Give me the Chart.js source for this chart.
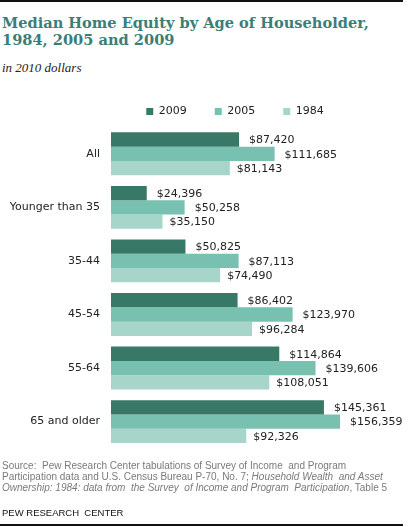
<!DOCTYPE html>
<html>
<head>
<meta charset="utf-8">
<script src="https://cdn.jsdelivr.net/npm/chart.js@4.4.1/dist/chart.umd.min.js"></script>
<style>
  html, body { margin: 0; padding: 0; background: #fff; }
  body { width: 408px; height: 527px; position: relative; overflow: hidden; }
  .rule { position: absolute; left: 0; width: 403px; background: #111; }
  #title { position: absolute; left: 2px; top: 14px; font: bold 14.6px "DejaVu Serif", Georgia, serif;
           color: #3b7d78; line-height: 17px; }
  #subtitle { position: absolute; left: 2px; top: 60px; font: italic 13px "Liberation Serif", Georgia, serif; color: #222; }
  #wrap { position: absolute; left: 0; top: 78px; width: 408px; height: 388px; }
  #source { position: absolute; left: 2px; top: 460px; font: 10px "Liberation Sans", Tahoma, sans-serif;
            color: #7a7a7a; line-height: 11px; white-space: nowrap; }
  #credit { position: absolute; left: 2px; top: 507px; font: 9.5px "Liberation Sans", Tahoma, sans-serif; color: #111; }
</style>
</head>
<body>
<div class="rule" style="top:0;height:2px"></div>
<div id="title">Median Home Equity by Age of Householder,<br>1984, 2005 and 2009</div>
<div id="subtitle">in 2010 dollars</div>
<div id="wrap"><canvas id="equityChart"></canvas></div>
<div id="source">Source:&nbsp; Pew Research Center tabulations of Survey of Income&nbsp; and Program<br>Participation data and U.S. Census Bureau P-70, No. 7; <i>Household Wealth&nbsp; and Asset</i><br><i>Ownership: 1984: data from&nbsp; the Survey&nbsp; of Income and Program&nbsp; Participation</i>, Table 5</div>
<div id="credit">PEW RESEARCH&nbsp; CENTER</div>
<div class="rule" style="top:524px;height:2px"></div>

<script>
const ageGroups = ['All', 'Younger than 35', '35-44', '45-54', '55-64', '65 and older'];
const years = ['2009', '2005', '1984'];
const equity2009 = [87420, 24396, 50825, 86402, 114864, 145361];
const equity2005 = [111685, 50258, 87113, 123970, 139606, 156359];
const equity1984 = [81143, 35150, 74490, 96284, 108051, 92326];
const barColors = ['#387867', '#78c0b0', '#a7d5c9'];

// value labels to the right of each bar
const valueLabels = {
  id: 'valueLabels',
  afterDatasetsDraw(chart) {
    const ctx = chart.ctx;
    ctx.save();
    ctx.font = '11px "DejaVu Sans", Tahoma, sans-serif';
    ctx.fillStyle = '#222';
    ctx.textBaseline = 'middle';
    ctx.textAlign = 'left';
    chart.data.datasets.forEach((ds, i) => {
      const gap = i === 2 ? 7 : 10;
      chart.getDatasetMeta(i).data.forEach((bar, j) => {
        ctx.fillText('$' + ds.data[j].toLocaleString('en-US'), bar.x + gap, bar.y + 1);
      });
    });
    ctx.restore();
  }
};

// nudge the legend row to sit over the bars, as in the original
const legendShift = {
  id: 'legendShift',
  afterLayout(chart) {
    chart.legend.left = 62;
    chart.legend.right = chart.width;
  }
};

const ctx = document.getElementById('equityChart').getContext('2d');
new Chart(ctx, {
  type: 'bar',
  data: {
    labels: ageGroups,
    datasets: [
      { label: years[0], data: equity2009, backgroundColor: barColors[0] },
      { label: years[1], data: equity2005, backgroundColor: barColors[1] },
      { label: years[2], data: equity1984, backgroundColor: barColors[2] }
    ]
  },
  options: {
    indexAxis: 'y',
    responsive: true,
    maintainAspectRatio: false,
    animation: false,
    layout: { padding: { left: 0, right: 4, top: 0, bottom: 2 } },
    datasets: { bar: { categoryPercentage: 0.8, barPercentage: 1.0 } },
    plugins: {
      legend: {
        position: 'top',
        labels: {
          boxWidth: 7, boxHeight: 7, padding: 28, color: '#222',
          font: { family: '"DejaVu Sans", Tahoma, sans-serif', size: 11 }
        }
      },
      tooltip: { enabled: false }
    },
    scales: {
      x: { display: false, min: 0, max: 200000 },
      y: {
        grid: { display: false, drawTicks: false },
        border: { display: false },
        ticks: { padding: 11, color: '#222', font: { family: '"DejaVu Sans", Tahoma, sans-serif', size: 11 } },
        afterFit(scale) { scale.width = 111; }
      }
    }
  },
  plugins: [valueLabels, legendShift]
});
</script>
</body>
</html>
